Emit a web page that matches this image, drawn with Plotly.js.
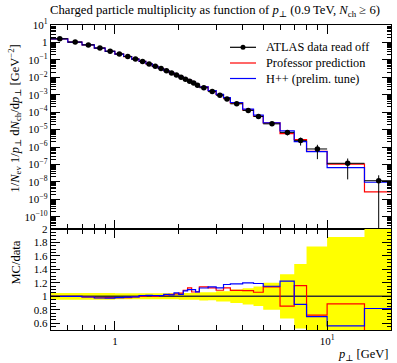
<!DOCTYPE html>
<html>
<head>
<meta charset="utf-8">
<script src="https://cdn.plot.ly/plotly-3.0.1.min.js"></script>
<style>
html, body { margin: 0; padding: 0; background: #fff; }
#chart { width: 397px; height: 363px; }
</style>
</head>
<body>
<div id="chart"></div>
<script>
// pT bin edges [GeV]
const binEdges = [0.5, 0.6, 0.7, 0.8, 0.9, 1.0, 1.1, 1.2, 1.3, 1.4, 1.5, 1.6, 1.7, 1.8, 1.9, 2.0,
  2.1, 2.2, 2.3, 2.4, 2.5, 2.75, 3.0, 3.25, 3.5, 4.0, 4.5, 5.0, 6.0, 7.0, 8.0, 10.0, 15.0, 20.0];

// ATLAS 0.9 TeV, Nch >= 6: 1/Nev 1/pT dNch/dpT [GeV^-2]
const dataValues = [1.62, 1.05, 0.724, 0.479, 0.316, 0.219, 0.158, 0.112, 8.13e-2, 5.89e-2,
  4.27e-2, 3.16e-2, 2.34e-2, 1.78e-2, 1.35e-2, 1.02e-2, 7.76e-3, 6.03e-3, 4.68e-3, 3.55e-3,
  2.51e-3, 1.51e-3, 9.33e-4, 5.75e-4, 3.02e-4, 1.26e-4, 5.62e-5, 2.14e-5, 6.92e-6, 2.34e-6,
  7.76e-7, 1.17e-7, 1.17e-8];
const dataErrors = [0.081, 0.0525, 0.0362, 0.024, 0.0158, 0.00986, 0.00711, 0.00504, 0.00366, 0.00265,
  0.00192, 0.00142, 0.00105, 0.0008, 0.000608, 0.00051, 0.000388, 0.000302, 0.000234, 0.000178,
  0.000151, 9.06e-5, 7.0e-5, 4.31e-5, 3.02e-5, 1.51e-5, 8.15e-6, 4.28e-6, 2.28e-6, 1.12e-6,
  5.74e-7, 1.03e-7, 1.23e-8];

// Professor prediction
const professorValues = [1.62, 1.05, 0.717, 0.469, 0.310, 0.215, 0.155, 0.111, 0.0813, 0.0595,
  0.0427, 0.0319, 0.0239, 0.0183, 0.0140, 0.0107, 0.00846, 0.00678, 0.00498, 0.00378,
  0.00286, 0.00170, 1.017e-3, 6.47e-4, 3.29e-4, 1.367e-4, 5.96e-5, 2.44e-5, 5.92e-6, 2.71e-6,
  5.59e-7, 1.04e-7, 2.69e-9];

// Herwig++ (preliminary tune)
const herwigValues = [1.62, 1.05, 0.717, 0.467, 0.308, 0.215, 0.156, 0.111, 0.0821, 0.0598,
  0.0431, 0.0319, 0.0241, 0.0182, 0.0142, 0.0105, 0.00838, 0.00663, 0.00515, 0.00378,
  0.00282, 0.00172, 1.05e-3, 6.76e-4, 3.58e-4, 1.51e-4, 6.69e-5, 2.46e-5, 8.48e-6, 2.06e-6,
  5.43e-7, 6.55e-8, 9.59e-9];

const seriesNames = ['ATLAS data read off', 'Professor prediction', 'H++ (prelim. tune)'];
const seriesColors = ['#000000', '#ff0000', '#0000ff'];

// ---- geometry (pixels) ----
const W = 397, H = 363;
const M = { l: 51, r: 6, t: 25, b: 33 };
const splitPx = 229;               // boundary between main and ratio panel
const plotW = W - M.l - M.r, plotH = H - M.t - M.b;
const px2x = px => (px - M.l) / plotW;
const px2y = py => (H - M.b - py) / plotH;
const ratioTop = px2y(splitPx);

const FONT = '"Liberation Serif", "DejaVu Serif", serif';

// ---- derived arrays ----
const nb = dataValues.length;
const lo = binEdges.slice(0, nb), hi = binEdges.slice(1);
const centers = lo.map((l, i) => 0.5 * (l + hi[i]));
const stepY = v => v.concat([v[v.length - 1]]);
const ratio = v => v.map((y, i) => y / dataValues[i]);
const relErr = dataErrors.map((e, i) => e / dataValues[i]);

const traces = [];

// MC histograms (main panel)
[professorValues, herwigValues].forEach((vals, k) => {
  traces.push({
    x: binEdges, y: stepY(vals), xaxis: 'x', yaxis: 'y',
    mode: 'lines', line: { shape: 'hv', color: seriesColors[k + 1], width: 1.2 },
    showlegend: false, hoverinfo: 'skip'
  });
});

// data points with bin-width x errors
traces.push({
  x: centers, y: dataValues, xaxis: 'x', yaxis: 'y', mode: 'markers',
  marker: { color: '#000', size: 5.5 },
  error_y: { type: 'data', array: dataErrors, color: '#000', thickness: 1, width: 0 },
  error_x: { type: 'data', array: hi.map((h, i) => h - centers[i]),
             arrayminus: lo.map((l, i) => centers[i] - l), color: '#000', thickness: 1, width: 0 },
  showlegend: false, hoverinfo: 'skip'
});

// ratio panel: data uncertainty band
traces.push({
  x: binEdges, y: stepY(relErr.map(r => 1 - r)), xaxis: 'x2', yaxis: 'y2',
  mode: 'lines', line: { shape: 'hv', width: 0, color: 'rgba(0,0,0,0)' },
  showlegend: false, hoverinfo: 'skip'
});
traces.push({
  x: binEdges, y: stepY(relErr.map(r => 1 + r)), xaxis: 'x2', yaxis: 'y2',
  mode: 'lines', line: { shape: 'hv', width: 0, color: 'rgba(0,0,0,0)' },
  fill: 'tonexty', fillcolor: '#ffff00',
  showlegend: false, hoverinfo: 'skip'
});
// data / data = 1
traces.push({
  x: binEdges, y: stepY(dataValues.map(() => 1)), xaxis: 'x2', yaxis: 'y2',
  mode: 'lines', line: { shape: 'hv', color: '#333', width: 1.5 },
  showlegend: false, hoverinfo: 'skip'
});
// MC / data
[professorValues, herwigValues].forEach((vals, k) => {
  traces.push({
    x: binEdges, y: stepY(ratio(vals)), xaxis: 'x2', yaxis: 'y2',
    mode: 'lines', line: { shape: 'hv', color: seriesColors[k + 1], width: 1.2 },
    showlegend: false, hoverinfo: 'skip'
  });
});

// ---- ticks ----
const xMajor = [1, 10];
const xMinor = [];
[0.1, 1, 10].forEach(dec => { for (let d = 2; d <= 9; d++) xMinor.push(d * dec); });
const yMajor = [], yMajorText = [], yMinor = [];
for (let e = -10; e <= 1; e++) {
  yMajor.push(Math.pow(10, e));
  yMajorText.push(e === 0 ? '1' : '10<sup>' + (e < 0 ? '\u2212' + (-e) : e) + '</sup>');
}
for (let e = -11; e <= 0; e++) for (let d = 2; d <= 9; d++) yMinor.push(d * Math.pow(10, e));

const axisBase = {
  showline: true, linecolor: '#000', linewidth: 1.3, mirror: 'allticks',
  ticks: 'inside', ticklen: 9, tickwidth: 1, tickcolor: '#000',
  showgrid: false, zeroline: false,
  tickfont: { family: FONT, size: 11, color: '#000' }
};
const xRange = [Math.log10(0.5), Math.log10(20)];

const layout = {
  width: W, height: H, margin: M,
  paper_bgcolor: '#fff', plot_bgcolor: '#fff',
  showlegend: false,
  font: { family: FONT, color: '#000' },
  title: {
    text: 'Charged particle multiplicity as function of <i>p</i><sub>\u22a5</sub> (0.9\u2009TeV, <i>N</i><sub>ch</sub> \u2265 6)',
    font: { family: FONT, size: 12.7, color: '#000' },
    x: 50 / W, xanchor: 'left', xref: 'container',
    y: 1 - 10 / H, yanchor: 'middle', yref: 'container'
  },
  xaxis: Object.assign({}, axisBase, {
    type: 'log', range: xRange, anchor: 'y', showticklabels: false,
    tickmode: 'array', tickvals: xMajor,
    minor: { tickmode: 'array', tickvals: xMinor, ticks: 'inside', ticklen: 5, tickcolor: '#000', showgrid: false }
  }),
  yaxis: Object.assign({}, axisBase, {
    type: 'log', range: [-10.7, 1.0], domain: [ratioTop, 1], anchor: 'x',
    tickmode: 'array', tickvals: yMajor, ticktext: yMajorText,
    minor: { tickmode: 'array', tickvals: yMinor, ticks: 'inside', ticklen: 4.5, tickcolor: '#000', showgrid: false }
  }),
  xaxis2: Object.assign({}, axisBase, {
    type: 'log', range: xRange, anchor: 'y2',
    tickmode: 'array', tickvals: xMajor, ticktext: ['1', '10<sup>1</sup>'],
    minor: { tickmode: 'array', tickvals: xMinor, ticks: 'inside', ticklen: 5, tickcolor: '#000', showgrid: false }
  }),
  yaxis2: Object.assign({}, axisBase, {
    range: [0.5, 2.0], domain: [0, ratioTop], anchor: 'x2',
    tickmode: 'array', tickvals: [0.6, 0.8, 1, 1.2, 1.4, 1.6, 1.8, 2],
    ticktext: ['0.6', '0.8', '1', '1.2', '1.4', '1.6', '1.8', '2'],
    minor: { dtick: 0.05, ticks: 'inside', ticklen: 4.5, tickcolor: '#000', showgrid: false }
  }),
  annotations: [],
  shapes: []
};

// axis titles
layout.annotations.push({
  xref: 'paper', yref: 'paper', x: px2x(15), y: px2y(118.5),
  xanchor: 'center', yanchor: 'middle', textangle: -90, showarrow: false,
  text: '1/<i>N</i><sub>ev</sub> 1/<i>p</i><sub>\u22a5</sub> d<i>N</i><sub>ch</sub>/d<i>p</i><sub>\u22a5</sub> [GeV<sup>\u22122</sup>]',
  font: { family: FONT, size: 12.5, color: '#000' }
});
layout.annotations.push({
  xref: 'paper', yref: 'paper', x: px2x(15.5), y: px2y(263),
  xanchor: 'center', yanchor: 'middle', textangle: -90, showarrow: false,
  text: 'MC/data', font: { family: FONT, size: 12.5, color: '#000' }
});
layout.annotations.push({
  xref: 'paper', yref: 'paper', x: px2x(391), y: px2y(355),
  xanchor: 'right', yanchor: 'middle', showarrow: false,
  text: '<i>p</i><sub>\u22a5</sub> [GeV]', font: { family: FONT, size: 12.5, color: '#000' }
});

// legend (top right of main panel)
const legendRows = [47.3, 63, 78.5];
seriesNames.forEach((name, k) => {
  const yp = px2y(legendRows[k]);
  layout.shapes.push({
    type: 'line', xref: 'paper', yref: 'paper',
    x0: px2x(230), x1: px2x(256), y0: yp, y1: yp,
    line: { color: seriesColors[k], width: 1.2 }
  });
  if (k === 0) {
    layout.shapes.push({
      type: 'circle', xref: 'paper', yref: 'paper',
      x0: px2x(240.5), x1: px2x(245.5), y0: px2y(legendRows[k] + 2.5), y1: px2y(legendRows[k] - 2.5),
      fillcolor: '#000', line: { color: '#000', width: 0 }
    });
  }
  layout.annotations.push({
    xref: 'paper', yref: 'paper', x: px2x(264), y: yp,
    xanchor: 'left', yanchor: 'middle', showarrow: false,
    text: name, font: { family: FONT, size: 12.3, color: '#000' }
  });
});

Plotly.newPlot('chart', traces, layout, { staticPlot: true, displayModeBar: false });
</script>
</body>
</html>
